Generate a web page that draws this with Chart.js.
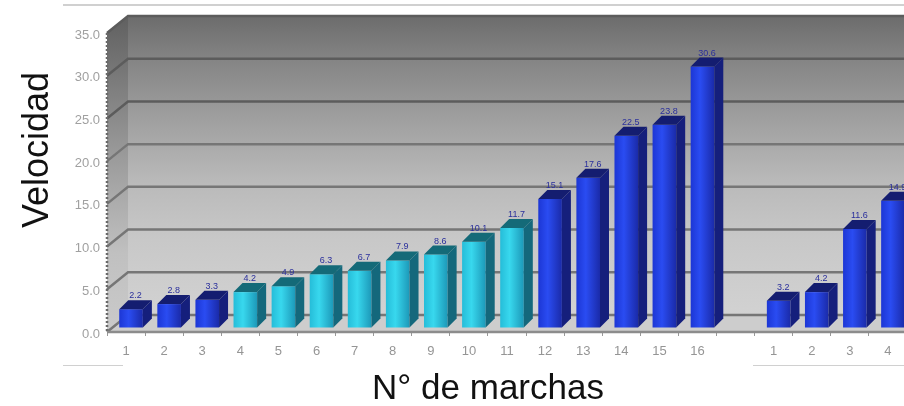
<!DOCTYPE html>
<html>
<head>
<meta charset="utf-8">
<script src="https://cdn.jsdelivr.net/npm/chart.js@4"></script>
<style>
html, body { margin: 0; padding: 0; background: #fff; overflow: hidden; }
#wrap { position: relative; width: 904px; height: 406px; overflow: hidden; }
#wrap canvas { position: absolute; left: 0; top: 0; }
</style>
</head>
<body>
<div id="wrap"><canvas id="marchas" width="920" height="406" style="width:920px;height:406px"></canvas></div>
<script>
const categories = ["1","2","3","4","5","6","7","8","9","10","11","12","13","14","15","16","","1","2","3","4"];
const valores = [2.2,2.8,3.3,4.2,4.9,6.3,6.7,7.9,8.6,10.1,11.7,15.1,17.6,22.5,23.8,30.6,null,3.2,4.2,11.6,14.9];
const grupos = ["a","a","a","b","b","b","b","b","b","b","b","a","a","a","a","a",null,"a","a","a","a"];
const yTicks = [0,5,10,15,20,25,30,35];

// colours: [gradient left, gradient mid, gradient right, side, top]
const azul = ["#1c36d4", "#2a4cf2", "#1a2aa8", "#151f7c", "#141d70"];
const cian = ["#25bcd8", "#38d8ee", "#1c98b8", "#14687c", "#146a78"];

// depth of the fake 3D box
const depthX = 21, depthY = 17;
const barDX = 5, barDY = -4, barD = 9;

function barColor(c) {
  const pal = grupos[c.dataIndex] === "b" ? cian : azul;
  const sx = c.chart.scales.x;
  if (!sx) return pal[1];
  const x = sx.getPixelForValue(c.dataIndex);
  if (!Number.isFinite(x)) return pal[1];
  const g = c.chart.ctx.createLinearGradient(x - 12, 0, x + 12, 0);
  g.addColorStop(0, pal[0]);
  g.addColorStop(0.4, pal[1]);
  g.addColorStop(1, pal[2]);
  return g;
}

const walls = {
  id: "walls",
  beforeDatasetsDraw(chart) {
    const { ctx, chartArea: a, scales: { y } } = chart;
    ctx.save();
    const top = a.top, bot = a.bottom, left = a.left, right = a.right + 20;
    // back wall
    const g = ctx.createLinearGradient(0, top - depthY, 0, bot - depthY);
    g.addColorStop(0, "#6c6c6c");
    g.addColorStop(0.15, "#858585");
    g.addColorStop(0.35, "#a0a0a0");
    g.addColorStop(0.55, "#b9b9b9");
    g.addColorStop(0.75, "#c8c8c8");
    g.addColorStop(1, "#d2d2d2");
    ctx.fillStyle = g;
    ctx.fillRect(left + depthX, top - depthY, right - left, bot - top);
    // side wall
    const s = ctx.createLinearGradient(0, top - depthY, 0, bot);
    s.addColorStop(0, "#606060");
    s.addColorStop(0.4, "#959595");
    s.addColorStop(0.75, "#c0c0c0");
    s.addColorStop(1, "#cacaca");
    ctx.fillStyle = s;
    ctx.beginPath();
    ctx.moveTo(left, top);
    ctx.lineTo(left + depthX, top - depthY);
    ctx.lineTo(left + depthX, bot - depthY);
    ctx.lineTo(left, bot);
    ctx.closePath();
    ctx.fill();
    // floor
    ctx.fillStyle = "#cdcdcd";
    ctx.beginPath();
    ctx.moveTo(left, bot);
    ctx.lineTo(left + depthX, bot - depthY);
    ctx.lineTo(right, bot - depthY);
    ctx.lineTo(right, bot);
    ctx.closePath();
    ctx.fill();
    // grid lines on the side wall and back wall
    yTicks.forEach(v => {
      const p = y.getPixelForValue(v);
      ctx.strokeStyle = v >= 25 ? "#5c5c5c" : "#767676";
      ctx.lineWidth = 2.5;
      ctx.beginPath();
      ctx.moveTo(left, p);
      ctx.lineTo(left + depthX, p - depthY);
      ctx.lineTo(right, p - depthY);
      ctx.stroke();
    });
    // dotted axis
    ctx.strokeStyle = "#6a6a6a";
    ctx.lineWidth = 2.5;
    ctx.setLineDash([2, 2]);
    ctx.beginPath();
    ctx.moveTo(left, top);
    ctx.lineTo(left, bot);
    ctx.stroke();
    ctx.setLineDash([]);
    // front edge of the floor
    ctx.strokeStyle = "#8c8c8c";
    ctx.lineWidth = 2.5;
    ctx.beginPath();
    ctx.moveTo(left, bot);
    ctx.lineTo(right, bot);
    ctx.stroke();
    ctx.restore();

    // bars sit a bit right of the category centre and above the front edge
    ctx.save();
    ctx.translate(barDX, barDY);
  },
  afterDatasetsDraw(chart) {
    const { ctx } = chart;
    const bars = chart.getDatasetMeta(0).data;
    bars.forEach((b, i) => {
      if (valores[i] == null) return;
      const pal = grupos[i] === "b" ? cian : azul;
      const l = b.x - b.width / 2, r = b.x + b.width / 2;
      // side
      ctx.fillStyle = pal[3];
      ctx.beginPath();
      ctx.moveTo(r, b.y);
      ctx.lineTo(r + barD, b.y - barD);
      ctx.lineTo(r + barD, b.base - barD);
      ctx.lineTo(r, b.base);
      ctx.closePath();
      ctx.fill();
      // top
      ctx.fillStyle = pal[4];
      ctx.beginPath();
      ctx.moveTo(l, b.y);
      ctx.lineTo(l + barD, b.y - barD);
      ctx.lineTo(r + barD, b.y - barD);
      ctx.lineTo(r, b.y);
      ctx.closePath();
      ctx.fill();
      // value label
      ctx.fillStyle = "#2a2f9c";
      ctx.font = "9px 'Liberation Sans', Arial, sans-serif";
      ctx.textAlign = "center";
      ctx.textBaseline = "bottom";
      ctx.fillText(String(valores[i]), b.x + barD / 2, b.y - barD);
    });
    ctx.restore();

    // thin rules and the axis titles
    ctx.save();
    ctx.strokeStyle = "#d0d0d0";
    ctx.lineWidth = 2;
    ctx.beginPath();
    ctx.moveTo(63, 5);
    ctx.lineTo(904, 5);
    ctx.stroke();
    ctx.lineWidth = 1;
    ctx.beginPath();
    ctx.moveTo(63, 365.5);
    ctx.lineTo(123, 365.5);
    ctx.moveTo(753, 365.5);
    ctx.lineTo(904, 365.5);
    ctx.stroke();
    ctx.fillStyle = "#111";
    ctx.font = "35px 'Liberation Sans', Arial, sans-serif";
    ctx.textAlign = "center";
    ctx.textBaseline = "middle";
    ctx.fillText("N° de marchas", 488, 389);
    ctx.translate(38, 150);
    ctx.rotate(-Math.PI / 2);
    ctx.font = "36px 'Liberation Sans', Arial, sans-serif";
    ctx.fillText("Velocidad", 0, 0);
    ctx.restore();
  }
};

new Chart(document.getElementById("marchas").getContext("2d"), {
  type: "bar",
  data: {
    labels: categories,
    datasets: [{
      data: valores,
      backgroundColor: barColor,
      borderWidth: 0,
      categoryPercentage: 1,
      barPercentage: 0.62
    }]
  },
  plugins: [walls],
  options: {
    responsive: false,
    animation: false,
    layout: { padding: { left: 0, right: 13, top: 33, bottom: 0 } },
    plugins: { legend: { display: false }, tooltip: { enabled: false } },
    scales: {
      x: {
        grid: { drawOnChartArea: false, drawTicks: true, tickLength: 4, color: "#999" },
        border: { display: false },
        ticks: { color: "#959595", font: { family: "'Liberation Sans', Arial, sans-serif", size: 13 }, autoSkip: false, maxRotation: 0, padding: 8 },
        afterFit(s) { s.height = 74; }
      },
      y: {
        min: 0,
        max: 35,
        afterBuildTicks(s) { s.ticks = yTicks.map(v => ({ value: v })); },
        grid: { drawOnChartArea: false, drawTicks: false },
        border: { display: false },
        ticks: {
          color: "#a0a0a0",
          padding: 7,
          labelOffset: 2,
          font: { family: "'Liberation Sans', Arial, sans-serif", size: 13 },
          callback: v => v.toFixed(1)
        },
        afterFit(s) { s.width = 107; }
      }
    }
  }
});
</script>
</body>
</html>
